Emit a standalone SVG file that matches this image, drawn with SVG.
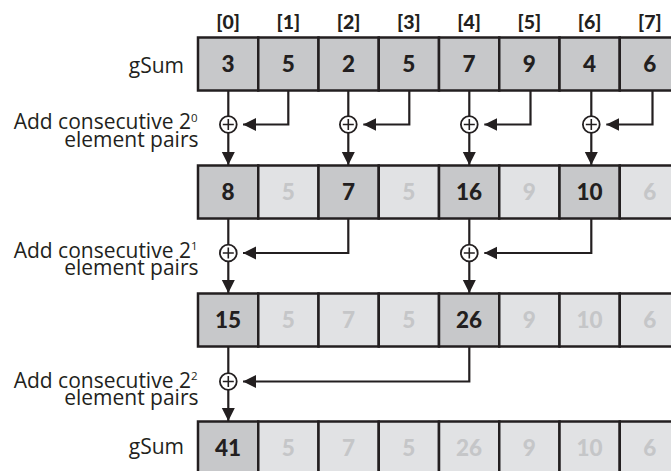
<svg xmlns="http://www.w3.org/2000/svg" width="671" height="471" viewBox="0 0 671 471">
<defs>
<style>
.dk{fill:#c7c8ca;stroke:#231f20;stroke-width:2.5}
.lt{fill:#e1e2e4;stroke:#231f20;stroke-width:2.5}
.num{font-family:Lato,"Liberation Sans",sans-serif;font-weight:900;font-size:22.5px;text-anchor:middle;fill:#231f20}
.numl{font-family:Lato,"Liberation Sans",sans-serif;font-weight:900;font-size:22.5px;text-anchor:middle;fill:#c5c6c8}
.hdr{font-family:Lato,"Liberation Sans",sans-serif;font-weight:900;font-size:19.5px;text-anchor:middle;fill:#231f20}
.lbl{font-family:"Open Sans","Liberation Sans",sans-serif;font-size:21px;text-anchor:end;fill:#231f20}
.ln{fill:none;stroke:#231f20;stroke-width:2.2}
.pl{fill:#fff;stroke:#231f20;stroke-width:1.8}
</style>
<marker id="ah" markerUnits="userSpaceOnUse" markerWidth="14" markerHeight="14" refX="13" refY="6.5" orient="auto">
<path d="M0,0 L13,6.5 L0,13 z" fill="#231f20"/>
</marker>
<symbol id="plus" overflow="visible">
<circle class="pl" cx="0" cy="0" r="8.4"/>
<path d="M-5.5,0 H5.5 M0,-5.5 V5.5" stroke="#231f20" stroke-width="1.6"/>
</symbol>
</defs>

<g id="headers">
<text class="hdr" x="228.1" y="29">[0]</text>
<text class="hdr" x="288.4" y="29">[1]</text>
<text class="hdr" x="348.6" y="29">[2]</text>
<text class="hdr" x="408.9" y="29">[3]</text>
<text class="hdr" x="469.1" y="29">[4]</text>
<text class="hdr" x="529.4" y="29">[5]</text>
<text class="hdr" x="589.6" y="29">[6]</text>
<text class="hdr" x="649.9" y="29">[7]</text>
</g>

<g id="labels">
<text class="lbl" x="184" y="72.5">gSum</text>
<text class="lbl" x="197.5" y="129">Add consecutive 2<tspan dy="-7.5" font-size="11.5px">0</tspan></text>
<text class="lbl" x="198.5" y="146.5">element pairs</text>
<text class="lbl" x="197.5" y="257.5">Add consecutive 2<tspan dy="-7.5" font-size="11.5px">1</tspan></text>
<text class="lbl" x="198.5" y="275">element pairs</text>
<text class="lbl" x="197.5" y="387.5">Add consecutive 2<tspan dy="-7.5" font-size="11.5px">2</tspan></text>
<text class="lbl" x="198.5" y="405">element pairs</text>
<text class="lbl" x="184" y="453.5">gSum</text>
</g>

<g id="row1">
<g id="r1c0"><rect class="dk" x="198" y="37.5" width="60.25" height="53"/><text class="num" x="228.1" y="72">3</text></g>
<g id="r1c1"><rect class="dk" x="258.25" y="37.5" width="60.25" height="53"/><text class="num" x="288.4" y="72">5</text></g>
<g id="r1c2"><rect class="dk" x="318.5" y="37.5" width="60.25" height="53"/><text class="num" x="348.6" y="72">2</text></g>
<g id="r1c3"><rect class="dk" x="378.75" y="37.5" width="60.25" height="53"/><text class="num" x="408.9" y="72">5</text></g>
<g id="r1c4"><rect class="dk" x="439" y="37.5" width="60.25" height="53"/><text class="num" x="469.1" y="72">7</text></g>
<g id="r1c5"><rect class="dk" x="499.25" y="37.5" width="60.25" height="53"/><text class="num" x="529.4" y="72">9</text></g>
<g id="r1c6"><rect class="dk" x="559.5" y="37.5" width="60.25" height="53"/><text class="num" x="589.6" y="72">4</text></g>
<g id="r1c7"><rect class="dk" x="619.75" y="37.5" width="60.25" height="53"/><text class="num" x="649.9" y="72">6</text></g>
</g>

<g id="row2">
<g id="r2c0"><rect class="dk" x="198" y="165.5" width="60.25" height="53"/><text class="num" x="228.1" y="200">8</text></g>
<g id="r2c1"><rect class="lt" x="258.25" y="165.5" width="60.25" height="53"/><text class="numl" x="288.4" y="200">5</text></g>
<g id="r2c2"><rect class="dk" x="318.5" y="165.5" width="60.25" height="53"/><text class="num" x="348.6" y="200">7</text></g>
<g id="r2c3"><rect class="lt" x="378.75" y="165.5" width="60.25" height="53"/><text class="numl" x="408.9" y="200">5</text></g>
<g id="r2c4"><rect class="dk" x="439" y="165.5" width="60.25" height="53"/><text class="num" x="469.1" y="200">16</text></g>
<g id="r2c5"><rect class="lt" x="499.25" y="165.5" width="60.25" height="53"/><text class="numl" x="529.4" y="200">9</text></g>
<g id="r2c6"><rect class="dk" x="559.5" y="165.5" width="60.25" height="53"/><text class="num" x="589.6" y="200">10</text></g>
<g id="r2c7"><rect class="lt" x="619.75" y="165.5" width="60.25" height="53"/><text class="numl" x="649.9" y="200">6</text></g>
</g>

<g id="row3">
<g id="r3c0"><rect class="dk" x="198" y="293.5" width="60.25" height="53"/><text class="num" x="228.1" y="328">15</text></g>
<g id="r3c1"><rect class="lt" x="258.25" y="293.5" width="60.25" height="53"/><text class="numl" x="288.4" y="328">5</text></g>
<g id="r3c2"><rect class="lt" x="318.5" y="293.5" width="60.25" height="53"/><text class="numl" x="348.6" y="328">7</text></g>
<g id="r3c3"><rect class="lt" x="378.75" y="293.5" width="60.25" height="53"/><text class="numl" x="408.9" y="328">5</text></g>
<g id="r3c4"><rect class="dk" x="439" y="293.5" width="60.25" height="53"/><text class="num" x="469.1" y="328">26</text></g>
<g id="r3c5"><rect class="lt" x="499.25" y="293.5" width="60.25" height="53"/><text class="numl" x="529.4" y="328">9</text></g>
<g id="r3c6"><rect class="lt" x="559.5" y="293.5" width="60.25" height="53"/><text class="numl" x="589.6" y="328">10</text></g>
<g id="r3c7"><rect class="lt" x="619.75" y="293.5" width="60.25" height="53"/><text class="numl" x="649.9" y="328">6</text></g>
</g>

<g id="row4">
<g id="r4c0"><rect class="dk" x="198" y="421.5" width="60.25" height="53"/><text class="num" x="228.1" y="456">41</text></g>
<g id="r4c1"><rect class="lt" x="258.25" y="421.5" width="60.25" height="53"/><text class="numl" x="288.4" y="456">5</text></g>
<g id="r4c2"><rect class="lt" x="318.5" y="421.5" width="60.25" height="53"/><text class="numl" x="348.6" y="456">7</text></g>
<g id="r4c3"><rect class="lt" x="378.75" y="421.5" width="60.25" height="53"/><text class="numl" x="408.9" y="456">5</text></g>
<g id="r4c4"><rect class="lt" x="439" y="421.5" width="60.25" height="53"/><text class="numl" x="469.1" y="456">26</text></g>
<g id="r4c5"><rect class="lt" x="499.25" y="421.5" width="60.25" height="53"/><text class="numl" x="529.4" y="456">9</text></g>
<g id="r4c6"><rect class="lt" x="559.5" y="421.5" width="60.25" height="53"/><text class="numl" x="589.6" y="456">10</text></g>
<g id="r4c7"><rect class="lt" x="619.75" y="421.5" width="60.25" height="53"/><text class="numl" x="649.9" y="456">6</text></g>
</g>

<g id="connectors">
<path class="ln" d="M228.3,91 V116"/>
<path class="ln" d="M228.3,133 V165" marker-end="url(#ah)"/>
<path class="ln" d="M288.3,91 V124.5 H243" marker-end="url(#ah)"/>
<path class="ln" d="M348.3,91 V116"/>
<path class="ln" d="M348.3,133 V165" marker-end="url(#ah)"/>
<path class="ln" d="M409.3,91 V124.5 H363.3" marker-end="url(#ah)"/>
<path class="ln" d="M469.3,91 V116"/>
<path class="ln" d="M469.3,133 V165" marker-end="url(#ah)"/>
<path class="ln" d="M530.5,91 V124.5 H484.3" marker-end="url(#ah)"/>
<path class="ln" d="M591.3,91 V116"/>
<path class="ln" d="M591.3,133 V165" marker-end="url(#ah)"/>
<path class="ln" d="M652.5,91 V124.5 H606.3" marker-end="url(#ah)"/>
<path class="ln" d="M228.3,219 V244.5"/>
<path class="ln" d="M228.3,261.5 V293" marker-end="url(#ah)"/>
<path class="ln" d="M348.3,219 V253 H243" marker-end="url(#ah)"/>
<path class="ln" d="M469.3,219 V244.5"/>
<path class="ln" d="M469.3,261.5 V293" marker-end="url(#ah)"/>
<path class="ln" d="M591.3,219 V253 H484.3" marker-end="url(#ah)"/>
<path class="ln" d="M228.3,347 V373"/>
<path class="ln" d="M228.3,390 V421" marker-end="url(#ah)"/>
<path class="ln" d="M469.3,347 V381.5 H243" marker-end="url(#ah)"/>
</g>

<g id="adders">
<g id="add1a"><use href="#plus" x="228.3" y="124.5"/></g>
<g id="add1b"><use href="#plus" x="348.3" y="124.5"/></g>
<g id="add1c"><use href="#plus" x="469.3" y="124.5"/></g>
<g id="add1d"><use href="#plus" x="591.3" y="124.5"/></g>
<g id="add2a"><use href="#plus" x="228.3" y="253"/></g>
<g id="add2b"><use href="#plus" x="469.3" y="253"/></g>
<g id="add3a"><use href="#plus" x="228.3" y="381.5"/></g>
</g>
</svg>
